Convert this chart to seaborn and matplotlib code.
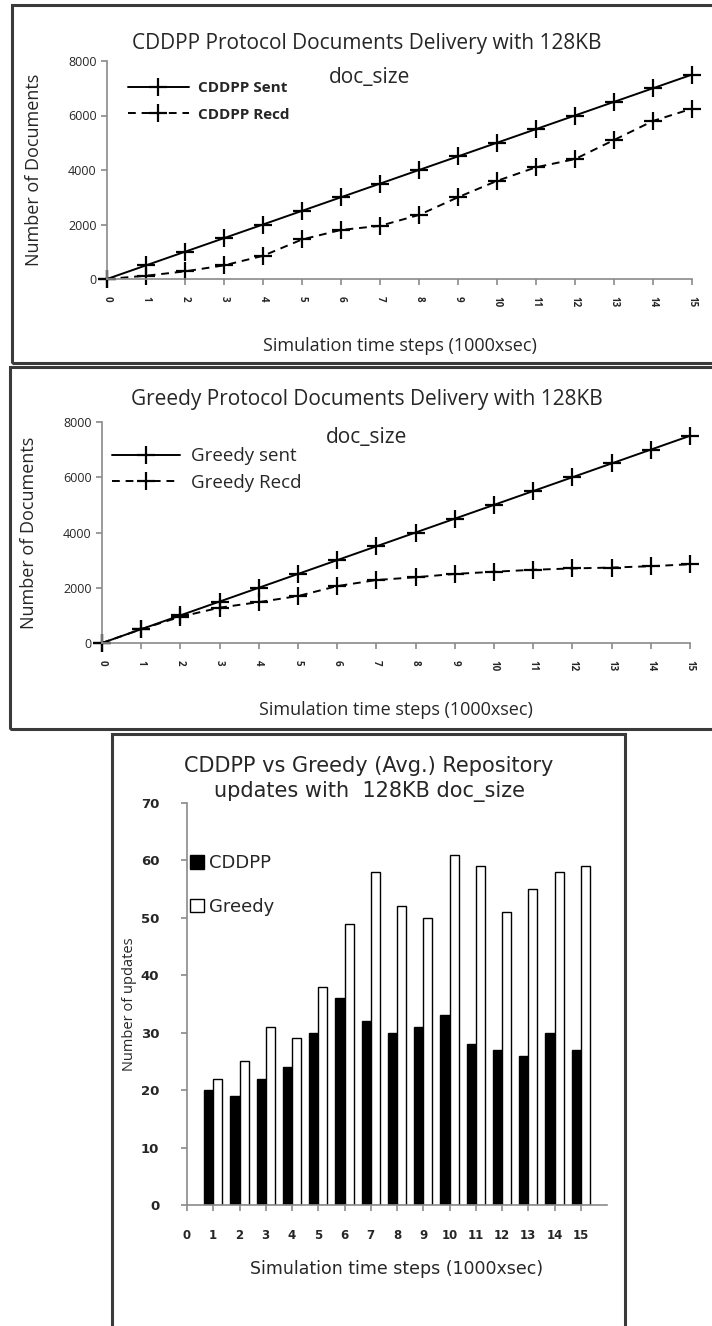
import numpy as np
import pandas as pd
import matplotlib
matplotlib.use("Agg")
import matplotlib.pyplot as plt
from matplotlib.patches import Rectangle
import seaborn as sns

# data
steps = list(range(16))
cddpp_sent = [0, 500, 1000, 1500, 2000, 2500, 3000, 3500, 4000, 4500, 5000, 5500, 6000, 6500, 7000, 7500]
cddpp_recd = [0, 120, 280, 500, 850, 1450, 1800, 1950, 2350, 3000, 3600, 4100, 4400, 5100, 5800, 6250]
greedy_sent = [0, 500, 1000, 1500, 2000, 2500, 3000, 3500, 4000, 4500, 5000, 5500, 6000, 6500, 7000, 7500]
greedy_recd = [0, 500, 950, 1280, 1480, 1700, 2060, 2280, 2380, 2500, 2580, 2650, 2700, 2730, 2780, 2850]

bar_steps = list(range(1, 16))
cddpp_updates = [20, 19, 22, 24, 30, 36, 32, 30, 31, 33, 28, 27, 26, 30, 27]
greedy_updates = [22, 25, 31, 29, 38, 49, 58, 52, 50, 61, 59, 51, 55, 58, 59]

xlabel = "Simulation time steps (1000xsec)"

sns.set_style("white")
plt.rcParams['font.family'] = ['Open Sans', 'DejaVu Sans']

W, H = 712, 1326
fig = plt.figure(figsize=(W / 100, H / 100), dpi=100)


def fx(px):
    return px / W


def fy(py):
    return 1 - py / H


def frame(x0, y0, x1, y1):
    fig.add_artist(Rectangle((fx(x0), fy(y1)), fx(x1 - x0), (y1 - y0) / H,
                             transform=fig.transFigure, fill=False,
                             edgecolor='#3a3a3a', linewidth=2.2))


def style_axes(ax):
    sns.despine(ax=ax)
    for s in ['left', 'bottom']:
        ax.spines[s].set_color('#8a8a8a')
        ax.spines[s].set_linewidth(1.2)
    ax.tick_params(axis='both', direction='out', length=4, width=1.2,
                   color='#8a8a8a', left=True, bottom=True)


def line_panel(ax, sent, recd, names, legend_size, legend_weight, anchor, spacing, hlen):
    sns.lineplot(x=steps, y=sent, ax=ax, color='black', linewidth=1.4,
                 marker='+', markersize=13, markeredgewidth=1.6,
                 markeredgecolor='black', label=names[0])
    sns.lineplot(x=steps, y=recd, ax=ax, color='black', linewidth=1.4,
                 linestyle=(0, (4, 3)), marker='+', markersize=13,
                 markeredgewidth=1.6, markeredgecolor='black', label=names[1])
    style_axes(ax)
    ax.set_xlim(0, 15)
    ax.set_ylim(0, 8000)
    ax.set_xticks(steps)
    ax.set_xticklabels([str(s) for s in steps], rotation=-90, fontsize=7,
                       fontweight='bold')
    ax.tick_params(axis='x', pad=8)
    ax.set_yticks([0, 2000, 4000, 6000, 8000])
    ax.tick_params(axis='y', labelsize=9)
    ax.set_xlabel(xlabel, fontsize=13, labelpad=22)
    ax.set_ylabel("Number of Documents", fontsize=13, labelpad=18)
    for line in ax.get_lines():
        line.set_clip_on(False)
    h, l = ax.get_legend_handles_labels()
    ax.legend(h, l, loc='upper left', bbox_to_anchor=anchor, frameon=False,
              handlelength=hlen, prop={'size': legend_size, 'weight': legend_weight},
              labelspacing=spacing, borderaxespad=0, handletextpad=0.6)


# top panel
frame(12, 5, 716, 363)
ax1 = fig.add_axes([fx(107), fy(279), fx(692 - 107), (279 - 61) / H])
line_panel(ax1, cddpp_sent, cddpp_recd, ['CDDPP Sent', 'CDDPP Recd'], 11, 'bold',
           (0.025, 0.935), 0.8, 4.0)
fig.text(fx(367), fy(43), "CDDPP Protocol Documents Delivery with 128KB",
         ha='center', va='center', fontsize=15)
fig.text(fx(370), fy(77), "doc_size", ha='center', va='center', fontsize=15)

# middle panel
frame(10, 367, 716, 729)
ax2 = fig.add_axes([fx(102), fy(643), fx(690 - 102), (643 - 422) / H])
line_panel(ax2, greedy_sent, greedy_recd, ['Greedy sent', 'Greedy Recd'], 13.5, 'normal',
           (0.005, 0.92), 0.45, 3.6)
fig.text(fx(367), fy(400), "Greedy Protocol Documents Delivery with 128KB",
         ha='center', va='center', fontsize=15)
fig.text(fx(367), fy(438), "doc_size", ha='center', va='center', fontsize=15)

# bottom panel
frame(112, 734, 625, 1340)
ax3 = fig.add_axes([fx(187), fy(1205), fx(607 - 187), (1205 - 803) / H])
bars = pd.DataFrame({'step': bar_steps * 2,
                     'updates': cddpp_updates + greedy_updates,
                     'protocol': ['CDDPP'] * 15 + ['Greedy'] * 15})
sns.barplot(data=bars, x='step', y='updates', hue='protocol', native_scale=True,
            palette={'CDDPP': 'black', 'Greedy': 'white'}, edgecolor='black',
            linewidth=1.0, width=0.7, ax=ax3)
style_axes(ax3)
ax3.set_xlim(0, 16)
ax3.set_ylim(0, 70)
ax3.set_xticks(steps)
ax3.set_xticklabels([str(s) for s in steps], fontsize=8.5, family='DejaVu Sans',
                    fontweight='bold')
ax3.set_yticks(range(0, 71, 10))
ax3.set_yticklabels([str(v) for v in range(0, 71, 10)], fontsize=9.5,
                    family='DejaVu Sans', fontweight='bold')
ax3.tick_params(axis='y', pad=16)
ax3.tick_params(axis='x', pad=13)
ax3.set_xlabel(xlabel, fontsize=12.5, family='DejaVu Sans', labelpad=13)
ax3.set_ylabel("Number of updates", fontsize=10.5)
ax3.yaxis.set_label_coords(-0.12, 0.5)
h, l = ax3.get_legend_handles_labels()
ax3.legend(h, l, loc='upper left', bbox_to_anchor=(-0.01, 0.89), frameon=False,
           handlelength=0.75, handleheight=0.8, handletextpad=0.3,
           prop={'size': 13, 'family': 'DejaVu Sans'}, labelspacing=1.4,
           borderaxespad=0)
fig.text(fx(369), fy(766), "CDDPP vs Greedy (Avg.) Repository",
         ha='center', va='center', fontsize=15, family='DejaVu Sans')
fig.text(fx(369), fy(792), "updates with  128KB doc_size",
         ha='center', va='center', fontsize=15, family='DejaVu Sans')

fig.savefig("out.png", dpi=100)
